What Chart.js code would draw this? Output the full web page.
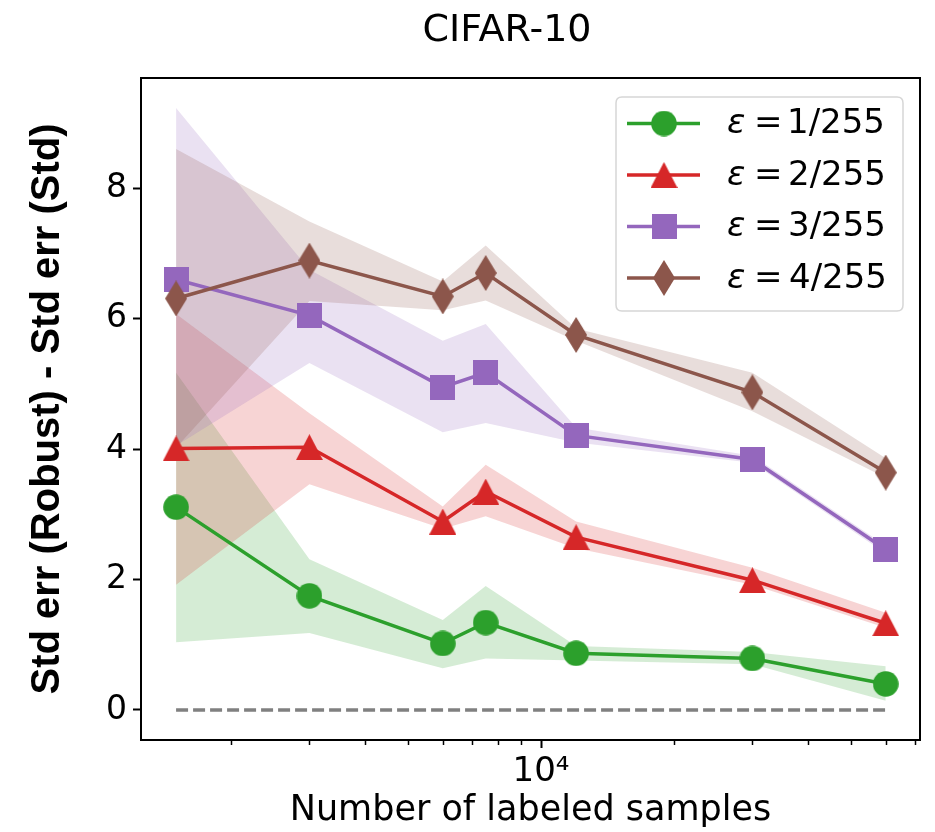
<!DOCTYPE html>
<html><head><meta charset="utf-8">
<script src="https://cdn.jsdelivr.net/npm/chart.js@4.4.1/dist/chart.umd.min.js"></script>
<style>html,body{margin:0;padding:0;background:#fff;} #wrap{width:935px;height:832px;position:relative;}</style>
</head><body><div id="wrap"><canvas id="c" width="935" height="832"></canvas></div>
<script>
// ---- data ----
const samples = [1500, 3000, 6000, 7500, 12000, 30000, 60000];
const seriesNames = ['1/255', '2/255', '3/255', '4/255'];

const eps1 = [3.11, 1.75, 1.02, 1.34, 0.87, 0.79, 0.40];
const eps1Lo = [1.04, 1.18, 0.64, 0.79, 0.76, 0.70, 0.14];
const eps1Hi = [5.17, 2.31, 1.38, 1.90, 0.98, 0.89, 0.67];

const eps2 = [4.01, 4.03, 2.89, 3.35, 2.65, 1.99, 1.33];
const eps2Lo = [1.92, 3.46, 2.78, 2.97, 2.48, 1.92, 1.26];
const eps2Hi = [6.07, 4.55, 3.12, 3.76, 2.89, 2.18, 1.49];

const eps3 = [6.60, 6.05, 4.95, 5.17, 4.21, 3.84, 2.46];
const eps3Lo = [4.05, 5.32, 4.26, 4.40, 4.10, 3.79, 2.40];
const eps3Hi = [9.23, 6.75, 5.66, 5.92, 4.33, 3.90, 2.52];

const eps4 = [6.31, 6.89, 6.34, 6.70, 5.75, 4.87, 3.64];
const eps4Lo = [4.02, 6.27, 6.13, 6.28, 5.66, 4.58, 3.56];
const eps4Hi = [8.60, 7.49, 6.57, 7.12, 5.85, 5.17, 3.86];

const xMajorTicks = [10000];
const xMinorTicks = [2000, 3000, 4000, 5000, 6000, 7000, 8000, 9000, 20000, 30000, 40000, 50000, 60000, 70000];
const yTicks = [0, 2, 4, 6, 8];
const titleText = 'CIFAR-10';
const xTitle = 'Number of labeled samples';
const yTitle = 'Std err (Robust) - Std err (Std)';

// ---- styles ----
const colors = ['#2ca02c', '#d62728', '#9467bd', '#8c564b'];
const bandColors = ['rgba(44,160,44,0.2)', 'rgba(214,39,40,0.2)', 'rgba(148,103,189,0.2)', 'rgba(140,86,75,0.2)'];
const shapes = ['circle', 'triangle', 'square', 'thinDiamond'];

function makeMarker(shape, color) {
  const c = document.createElement('canvas');
  let w, h;
  if (shape === 'circle') { w = 26; h = 26; }
  else if (shape === 'triangle') { w = 27; h = 26; }
  else if (shape === 'square') { w = 25; h = 25; }
  else { w = 22; h = 36; }
  c.width = w; c.height = h;
  const g = c.getContext('2d');
  g.fillStyle = color;
  g.beginPath();
  if (shape === 'circle') g.arc(w / 2, h / 2, 12.8, 0, Math.PI * 2);
  else if (shape === 'triangle') { g.moveTo(w / 2, 0); g.lineTo(w, h); g.lineTo(0, h); g.closePath(); }
  else if (shape === 'square') g.rect(0, 0, w, h);
  else { g.moveTo(w / 2, 0); g.lineTo(w, h / 2); g.lineTo(w / 2, h); g.lineTo(0, h / 2); g.closePath(); }
  g.fill();
  return c;
}
const markers = shapes.map((s, i) => makeMarker(s, colors[i]));

const means = [eps1, eps2, eps3, eps4];
const lows = [eps1Lo, eps2Lo, eps3Lo, eps4Lo];
const highs = [eps1Hi, eps2Hi, eps3Hi, eps4Hi];
const toPts = arr => samples.map((x, i) => ({ x: x, y: arr[i] }));

const datasets = [];
for (let s = 0; s < 4; s++) {
  datasets.push({ label: 'hi' + s, data: toPts(highs[s]), borderWidth: 0, borderColor: 'rgba(0,0,0,0)', pointRadius: 0, fill: false, order: 20 - s });
  datasets.push({ label: 'lo' + s, data: toPts(lows[s]), borderWidth: 0, borderColor: 'rgba(0,0,0,0)', pointRadius: 0, fill: '-1', backgroundColor: bandColors[s], order: 20 - s });
}
datasets.push({ label: 'zero', data: [{ x: samples[0], y: 0 }, { x: samples[samples.length - 1], y: 0 }],
  borderColor: '#808080', borderWidth: 3.5, borderDash: [12, 5], pointRadius: 0, fill: false, order: 9 });
for (let s = 0; s < 4; s++) {
  datasets.push({ label: 'eps' + s, data: toPts(means[s]), borderColor: colors[s], borderWidth: 3.5,
    pointStyle: markers[s], pointRadius: 12, pointBorderWidth: 0, fill: false, order: 3 - s });
}

function textAtInk(ctx, txt, inkLeft, y) {
  const m = ctx.measureText(txt);
  ctx.fillText(txt, inkLeft + m.actualBoundingBoxLeft, y);
}

const extras = {
  id: 'extras',
  afterDatasetsDraw(chart) {
    const ctx = chart.ctx, a = chart.chartArea, xs = chart.scales.x;
    ctx.save();
    ctx.strokeStyle = '#000'; ctx.lineWidth = 1.5;
    xMinorTicks.forEach(v => {
      const px = Math.round(xs.getPixelForValue(v)) + 0.5;
      ctx.beginPath(); ctx.moveTo(px, a.bottom); ctx.lineTo(px, a.bottom + 5); ctx.stroke();
    });
    ctx.lineWidth = 2; ctx.strokeStyle = '#000';
    ctx.strokeRect(a.left, a.top, a.right - a.left, a.bottom - a.top);
    ctx.restore();
  },
  afterDraw(chart) {
    const ctx = chart.ctx;
    ctx.save();
    ctx.fillStyle = '#000';
    ctx.font = '38px "DejaVu Sans"';
    ctx.textAlign = 'center'; ctx.textBaseline = 'middle';
    ctx.fillText(titleText, 507, 31);
    // legend
    const bx = 616, by = 97, bw = 287, bh = 214, r = 6;
    ctx.beginPath();
    ctx.moveTo(bx + r, by); ctx.lineTo(bx + bw - r, by); ctx.quadraticCurveTo(bx + bw, by, bx + bw, by + r);
    ctx.lineTo(bx + bw, by + bh - r); ctx.quadraticCurveTo(bx + bw, by + bh, bx + bw - r, by + bh);
    ctx.lineTo(bx + r, by + bh); ctx.quadraticCurveTo(bx, by + bh, bx, by + bh - r);
    ctx.lineTo(bx, by + r); ctx.quadraticCurveTo(bx, by, bx + r, by); ctx.closePath();
    ctx.fillStyle = 'rgba(255,255,255,0.8)'; ctx.fill();
    ctx.strokeStyle = '#d6d6d6'; ctx.lineWidth = 1.5; ctx.stroke();
    const rows = [123.5, 175, 226.5, 278];
    for (let s = 0; s < 4; s++) {
      const y = rows[s];
      ctx.strokeStyle = colors[s]; ctx.lineWidth = 3.5;
      ctx.beginPath(); ctx.moveTo(627, y); ctx.lineTo(700, y); ctx.stroke();
      const m = markers[s];
      ctx.drawImage(m, 664 - m.width / 2, y - m.height / 2);
      ctx.fillStyle = '#000'; ctx.textAlign = 'left'; ctx.textBaseline = 'middle';
      ctx.font = 'italic 34px "DejaVu Sans"';
      textAtInk(ctx, '\u03B5', 728, y + 1);
      ctx.font = '34px "DejaVu Sans"';
      textAtInk(ctx, '=', 757, y + 1);
      textAtInk(ctx, seriesNames[s], 790, y + 1);
    }
    ctx.restore();
  }
};

Chart.defaults.font.family = '"DejaVu Sans"';
Chart.defaults.color = '#000';

new Chart(document.getElementById('c'), {
  type: 'line',
  data: { datasets: datasets },
  options: {
    responsive: false, animation: false,
    layout: { padding: { left: 0, right: 15, top: 78, bottom: 0 } },
    plugins: { legend: { display: false }, title: { display: false }, tooltip: { enabled: false },
      filler: { drawTime: 'beforeDatasetsDraw', propagate: false } },
    elements: { line: { tension: 0 } },
    scales: {
      x: {
        type: 'logarithmic', min: 1250, max: 71700,
        afterBuildTicks: sc => { sc.ticks = xMinorTicks.concat(xMajorTicks).sort((a, b) => a - b).map(v => ({ value: v })); },
        afterFit: sc => { sc.height = 92; },
        border: { display: false },
        grid: { display: true, drawOnChartArea: false, drawTicks: true, tickLength: 8, tickWidth: 2,
          tickColor: c => (c.tick && xMajorTicks.includes(c.tick.value)) ? '#000' : 'rgba(0,0,0,0)' },
        ticks: { autoSkip: false, maxRotation: 0, padding: 4, font: { size: 34 },
          callback: v => xMajorTicks.includes(v) ? '10\u2074' : '' },
        title: { display: true, text: xTitle, font: { size: 35 }, padding: { top: 0, bottom: 0 } }
      },
      y: {
        type: 'linear', min: -0.46, max: 9.69,
        afterBuildTicks: sc => { sc.ticks = yTicks.map(v => ({ value: v })); },
        afterFit: sc => { sc.width = 141; },
        border: { display: false },
        grid: { display: true, drawOnChartArea: false, drawTicks: true, tickLength: 8, tickWidth: 2, tickColor: '#000' },
        ticks: { padding: 6, font: { size: 33 }, callback: v => String(v) },
        title: { display: true, text: yTitle, font: { size: 40, weight: 'bold', family: '"Liberation Sans"' }, padding: { top: 24, bottom: 0 } }
      }
    }
  },
  plugins: [extras]
});
</script>
</body></html>
